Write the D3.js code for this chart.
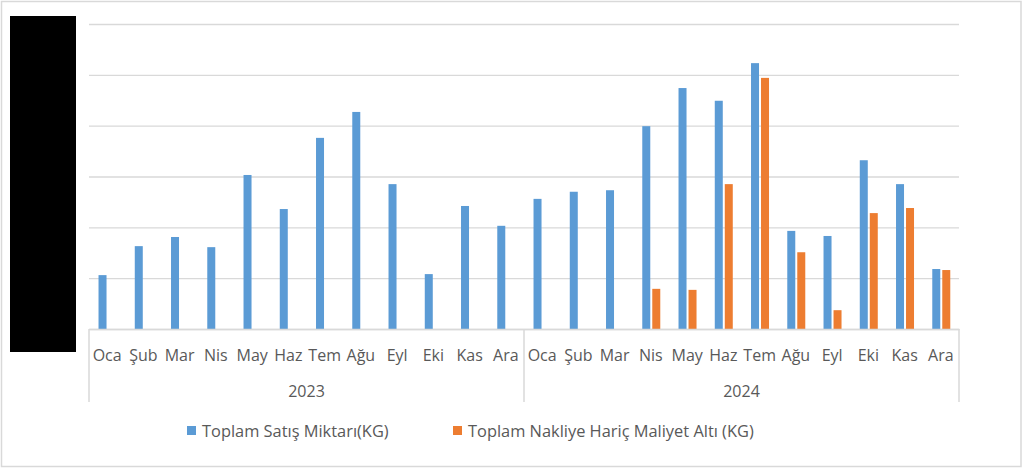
<!DOCTYPE html>
<html>
<head>
    <meta charset="utf-8">
    <title>Satış Grafiği</title>
    <script src="https://d3js.org/d3.v7.min.js"></script>
    <style>
        body { margin: 0; background: #fff; }
        text { font-family: "Open Sans", "Noto Sans", sans-serif; fill: #595959; }
    </style>
</head>
<body>
    <div id="chart"></div>

    <script>
        // Data (y axis labels are hidden)
        const years = ['2023', '2024'];
        const months = ['Oca', 'Şub', 'Mar', 'Nis', 'May', 'Haz', 'Tem', 'Ağu', 'Eyl', 'Eki', 'Kas', 'Ara'];
        const seriesNames = ['Toplam Satış Miktarı(KG)', 'Toplam Nakliye Hariç Maliyet Altı (KG)'];
        const seriesColors = ['#5b9bd5', '#ed7d31'];

        const satis2023 = [10600, 16300, 18100, 16100, 30300, 23600, 37600, 42700, 28500, 10800, 24200, 20300];
        const satis2024 = [25600, 27000, 27300, 39900, 47400, 44900, 52300, 19300, 18300, 33200, 28500, 11800];
        const maliyet2023 = [null, null, null, null, null, null, null, null, null, null, null, null];
        const maliyet2024 = [null, null, null, 7900, 7700, 28500, 49400, 15100, 3700, 22800, 23800, 11600];

        const yTicks = [0, 10000, 20000, 30000, 40000, 50000, 60000];

        const chartWidth = 1023;
        const chartHeight = 469;
        const plotLeft = 89, plotRight = 959, plotTop = 24, plotBottom = 329;

        const svg = d3.select('#chart').append('svg')
                      .attr('width', chartWidth)
                      .attr('height', chartHeight);

        // Outer border
        svg.append('rect')
           .attr('x', 1.5).attr('y', 1.5)
           .attr('width', chartWidth - 3.5).attr('height', chartHeight - 4)
           .attr('fill', '#fff')
           .attr('stroke', '#d9d9d9')
           .attr('stroke-width', 1.5);

        // Build category rows
        const rows = [];
        years.forEach((yr, yi) => {
            const s = yi === 0 ? satis2023 : satis2024;
            const m = yi === 0 ? maliyet2023 : maliyet2024;
            months.forEach((mo, mi) => {
                rows.push({ key: yr + '-' + mo, year: yr, month: mo, values: [s[mi], m[mi]] });
            });
        });

        // Scales
        const x0 = d3.scaleBand()
                     .domain(rows.map(d => d.key))
                     .range([plotLeft, plotRight])
                     .padding(0);

        const x1 = d3.scaleBand()
                     .domain([0, 1])
                     .range([x0.bandwidth() / 2 - 8.6, x0.bandwidth() / 2 + 9.4])
                     .paddingInner(0.2);

        const y = d3.scaleLinear()
                    .domain([0, 60000])
                    .range([plotBottom, plotTop]);

        // Horizontal grid lines
        const yAxis = d3.axisLeft(y)
                        .tickValues(yTicks)
                        .tickSize(-(plotRight - plotLeft))
                        .tickPadding(18)
                        .tickFormat(d3.format(','));

        const gy = svg.append('g')
                      .attr('transform', `translate(${plotLeft},0)`)
                      .call(yAxis);
        gy.select('.domain').remove();
        gy.selectAll('line')
          .attr('stroke', '#d9d9d9')
          .attr('stroke-width', 1.3);
        gy.selectAll('text')
          .style('font-size', '16px');

        // Bars
        const groups = svg.append('g')
                          .selectAll('g')
                          .data(rows)
                          .join('g')
                          .attr('transform', d => `translate(${x0(d.key)},0)`);

        groups.selectAll('rect')
              .data(d => d.values.map((v, i) => ({ i: i, v: v })).filter(e => e.v !== null))
              .join('rect')
              .attr('x', e => x1(e.i))
              .attr('width', x1.bandwidth())
              .attr('y', e => y(e.v))
              .attr('height', e => y(0) - y(e.v))
              .attr('fill', e => seriesColors[e.i]);

        // Category axis (months)
        const xAxis = d3.axisBottom(x0)
                        .tickSize(0)
                        .tickPadding(21)
                        .tickFormat(k => k.split('-')[1]);

        const gx = svg.append('g')
                      .attr('transform', `translate(0,${plotBottom})`)
                      .call(xAxis);
        gx.select('.domain')
          .attr('stroke', '#d9d9d9')
          .attr('stroke-width', 1.5);
        gx.selectAll('text')
          .style('font-size', '16px');

        // Year separators and labels
        const sepX = [plotLeft, x0(years[1] + '-Oca'), plotRight];
        sepX.forEach(sx => {
            svg.append('line')
               .attr('x1', sx).attr('x2', sx)
               .attr('y1', plotBottom).attr('y2', 402)
               .attr('stroke', '#d9d9d9')
               .attr('stroke-width', 1.5);
        });

        years.forEach((yr, yi) => {
            svg.append('text')
               .attr('x', (sepX[yi] + sepX[yi + 1]) / 2)
               .attr('y', 397)
               .attr('text-anchor', 'middle')
               .style('font-size', '16px')
               .text(yr);
        });

        // Black box over the value axis
        svg.append('rect')
           .attr('x', 10).attr('y', 16)
           .attr('width', 66).attr('height', 336)
           .attr('fill', '#000');

        // Legend
        const legendX = [187, 453];
        seriesNames.forEach((name, i) => {
            svg.append('rect')
               .attr('x', legendX[i]).attr('y', 426)
               .attr('width', 9).attr('height', 9)
               .attr('fill', seriesColors[i]);
            svg.append('text')
               .attr('x', legendX[i] + 15)
               .attr('y', 437)
               .style('font-size', '16.4px')
               .text(name);
        });
    </script>
</body>
</html>
